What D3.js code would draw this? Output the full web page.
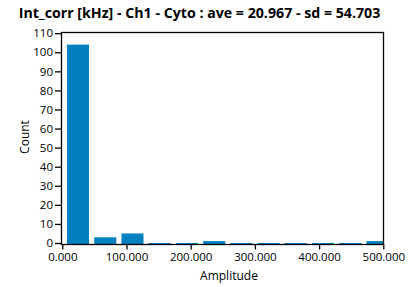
<!DOCTYPE html>
<html>
<head>
<meta charset="utf-8">
<script src="https://cdn.jsdelivr.net/npm/d3@7"></script>
<style>
  html, body { margin: 0; padding: 0; background: #fff; }
  svg { display: block; }
  text { font-family: "Open Sans", "Noto Sans", sans-serif; fill: #000; }
</style>
</head>
<body>
<svg id="chart" width="408" height="287"></svg>
<script>
// ---- data ----
const title = "Int_corr [kHz] - Ch1 - Cyto : ave = 20.967 - sd = 54.703";
const binCenters = [24.5, 66.9, 109.3, 151.7, 194.1, 236.5, 278.9, 321.3, 363.7, 406.1, 448.5, 490.9];
const counts     = [104, 3, 5, 0, 0, 1, 0, 0, 0, 0, 0, 1];
const xTicks = [0, 100, 200, 300, 400, 500];
const yTicks = [0, 10, 20, 30, 40, 50, 60, 70, 80, 90, 100, 110];
const binWidth = 34.3;   // drawn bar width in data units
const xLabel = "Amplitude";
const yLabel = "Count";

const svg = d3.select("#chart");
const pL = 61, pR = 384, pT = 32, pB = 244;

const x = d3.scaleLinear().domain([0, 500]).range([62.3, 383.3]);
const y = d3.scaleLinear().domain([0, 110]).range([243, 33.2]);
const yBase = y.invert(pB);

svg.append("defs").append("clipPath").attr("id", "clip")
  .append("rect").attr("x", pL).attr("y", pT).attr("width", pR - pL).attr("height", pB - pT);

svg.append("g").attr("clip-path", "url(#clip)")
  .selectAll("rect").data(binCenters).join("rect")
  .attr("x", d => x(d - binWidth / 2))
  .attr("width", d => x(d + binWidth / 2) - x(d - binWidth / 2))
  .attr("y", (d, i) => y(counts[i]))
  .attr("height", (d, i) => y(yBase) - y(counts[i]))
  .attr("fill", "#0080C0");

// frame
svg.append("rect").attr("x", pL + 0.5).attr("y", pT + 0.5)
  .attr("width", pR - pL - 1).attr("height", pB - pT)
  .attr("fill", "none").attr("stroke", "#000").attr("stroke-width", 1.3);

// x axis
const xAxis = d3.axisBottom(x).tickValues(xTicks).tickFormat(d3.format(".3f")).tickSize(5).tickPadding(3);
const gx = svg.append("g").attr("transform", `translate(0,${pB + 0.5})`).call(xAxis);
gx.select(".domain").remove();
gx.selectAll("line").attr("stroke", "#000").attr("stroke-width", 1.3);
gx.selectAll("text").attr("font-size", 11.5).style("font-family", '"Open Sans", sans-serif');

// y axis
const yAxis = d3.axisLeft(y).tickValues(yTicks).tickSize(6).tickPadding(2);
const gy = svg.append("g").attr("transform", `translate(${pL},0)`).call(yAxis);
gy.select(".domain").remove();
gy.selectAll("line").attr("stroke", "#000").attr("stroke-width", 1.3);
gy.selectAll("text").attr("font-size", 11.5).style("font-family", '"Open Sans", sans-serif');

// title
svg.append("text").attr("x", 199.5).attr("y", 17.5).attr("text-anchor", "middle")
  .attr("font-size", 14.2).attr("font-weight", "bold").text(title);

svg.append("text").attr("x", 229).attr("y", 280).attr("text-anchor", "middle")
  .attr("font-size", 12).text(xLabel);

svg.append("text").attr("transform", "translate(29,137) rotate(-90)").attr("text-anchor", "middle")
  .attr("font-size", 12).text(yLabel);
</script>
</body>
</html>
